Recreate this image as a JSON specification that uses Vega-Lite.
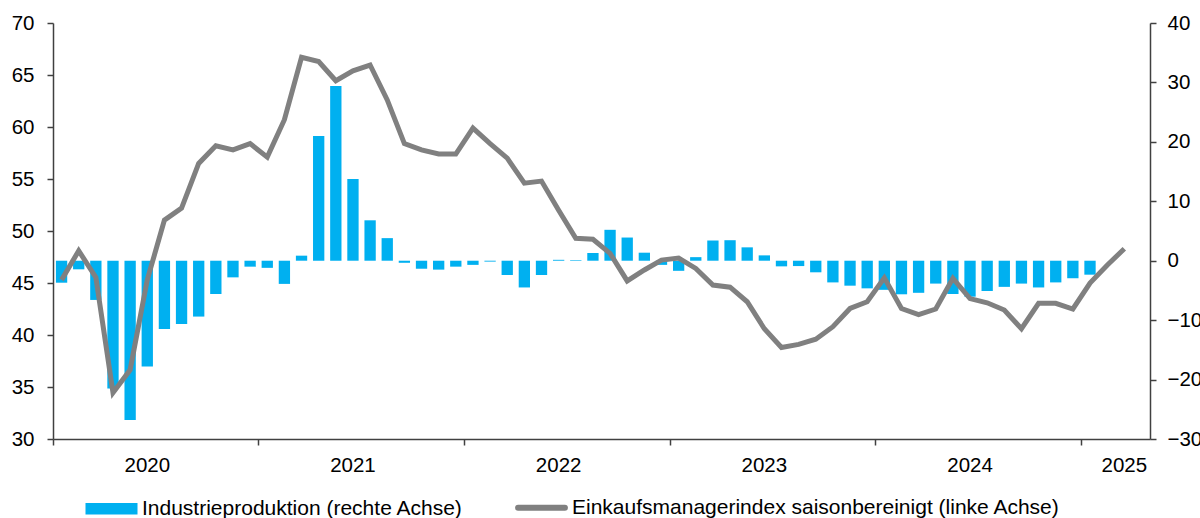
{
  "$schema": "https://vega.github.io/schema/vega-lite/v6.json",
  "width": 1097,
  "height": 416,
  "autosize": {"type": "none"},
  "padding": {"left": 53, "top": 23, "right": 50, "bottom": 79},
  "background": "white",
  "config": {
    "view": {"stroke": null},
    "font": "Liberation Sans",
    "axis": {"labelFont": "Liberation Sans", "labelFontSize": 20.5, "labelColor": "#000000", "domainColor": "#404040", "tickColor": "#404040", "grid": false, "title": null, "domainWidth": 1.5, "tickWidth": 1.5, "tickSize": 6},
    "legend": {"labelFont": "Liberation Sans", "labelFontSize": 21, "labelColor": "#000000"}
  },
  "data": {"values": [
    {"m": "2020-01", "ip": -3.7, "pmi": 45.3},
    {"m": "2020-02", "ip": -1.45, "pmi": 48.1},
    {"m": "2020-03", "ip": -6.6, "pmi": 45.55},
    {"m": "2020-04", "ip": -21.5, "pmi": 34.45},
    {"m": "2020-05", "ip": -26.8, "pmi": 36.65},
    {"m": "2020-06", "ip": -17.8, "pmi": 45.3},
    {"m": "2020-07", "ip": -11.5, "pmi": 51.05},
    {"m": "2020-08", "ip": -10.65, "pmi": 52.2},
    {"m": "2020-09", "ip": -9.4, "pmi": 56.5},
    {"m": "2020-10", "ip": -5.6, "pmi": 58.2},
    {"m": "2020-11", "ip": -2.8, "pmi": 57.8},
    {"m": "2020-12", "ip": -1.0, "pmi": 58.4},
    {"m": "2021-01", "ip": -1.2, "pmi": 57.1},
    {"m": "2021-02", "ip": -3.9, "pmi": 60.7},
    {"m": "2021-03", "ip": 0.85, "pmi": 66.7},
    {"m": "2021-04", "ip": 21.0, "pmi": 66.3},
    {"m": "2021-05", "ip": 29.4, "pmi": 64.45},
    {"m": "2021-06", "ip": 13.75, "pmi": 65.4},
    {"m": "2021-07", "ip": 6.8, "pmi": 65.96},
    {"m": "2021-08", "ip": 3.8, "pmi": 62.6},
    {"m": "2021-09", "ip": -0.35, "pmi": 58.4},
    {"m": "2021-10", "ip": -1.35, "pmi": 57.8},
    {"m": "2021-11", "ip": -1.5, "pmi": 57.4},
    {"m": "2021-12", "ip": -1.0, "pmi": 57.4},
    {"m": "2022-01", "ip": -0.7, "pmi": 59.9},
    {"m": "2022-02", "ip": -0.15, "pmi": 58.4},
    {"m": "2022-03", "ip": -2.4, "pmi": 57.0},
    {"m": "2022-04", "ip": -4.5, "pmi": 54.6},
    {"m": "2022-05", "ip": -2.4, "pmi": 54.8},
    {"m": "2022-06", "ip": 0.15, "pmi": 52.0},
    {"m": "2022-07", "ip": 0.1, "pmi": 49.3},
    {"m": "2022-08", "ip": 1.3, "pmi": 49.2},
    {"m": "2022-09", "ip": 5.2, "pmi": 47.85},
    {"m": "2022-10", "ip": 3.9, "pmi": 45.2},
    {"m": "2022-11", "ip": 1.35, "pmi": 46.25},
    {"m": "2022-12", "ip": -0.7, "pmi": 47.2},
    {"m": "2023-01", "ip": -1.7, "pmi": 47.4},
    {"m": "2023-02", "ip": 0.6, "pmi": 46.4},
    {"m": "2023-03", "ip": 3.4, "pmi": 44.8},
    {"m": "2023-04", "ip": 3.45, "pmi": 44.6},
    {"m": "2023-05", "ip": 2.25, "pmi": 43.2},
    {"m": "2023-06", "ip": 0.9, "pmi": 40.6},
    {"m": "2023-07", "ip": -0.95, "pmi": 38.8},
    {"m": "2023-08", "ip": -0.9, "pmi": 39.1},
    {"m": "2023-09", "ip": -1.95, "pmi": 39.6},
    {"m": "2023-10", "ip": -3.65, "pmi": 40.8},
    {"m": "2023-11", "ip": -4.2, "pmi": 42.55},
    {"m": "2023-12", "ip": -4.65, "pmi": 43.2},
    {"m": "2024-01", "ip": -4.9, "pmi": 45.5},
    {"m": "2024-02", "ip": -5.65, "pmi": 42.55},
    {"m": "2024-03", "ip": -5.4, "pmi": 41.95},
    {"m": "2024-04", "ip": -3.85, "pmi": 42.5},
    {"m": "2024-05", "ip": -5.6, "pmi": 45.45},
    {"m": "2024-06", "ip": -6.05, "pmi": 43.5},
    {"m": "2024-07", "ip": -5.1, "pmi": 43.1},
    {"m": "2024-08", "ip": -4.4, "pmi": 42.4},
    {"m": "2024-09", "ip": -3.85, "pmi": 40.6},
    {"m": "2024-10", "ip": -4.5, "pmi": 43.05},
    {"m": "2024-11", "ip": -3.65, "pmi": 43.05},
    {"m": "2024-12", "ip": -2.95, "pmi": 42.5},
    {"m": "2025-01", "ip": -2.35, "pmi": 45.0},
    {"m": "2025-02", "ip": null, "pmi": 46.7},
    {"m": "2025-03", "ip": null, "pmi": 48.3}
  ]},
  "layer": [
    {
      "mark": {"type": "bar", "width": {"band": 0.66}, "color": "#00B0F0"},
      "encoding": {
        "x": {
          "field": "m", "type": "ordinal",
          "scale": {"domain": ["2020-01","2020-02","2020-03","2020-04","2020-05","2020-06","2020-07","2020-08","2020-09","2020-10","2020-11","2020-12","2021-01","2021-02","2021-03","2021-04","2021-05","2021-06","2021-07","2021-08","2021-09","2021-10","2021-11","2021-12","2022-01","2022-02","2022-03","2022-04","2022-05","2022-06","2022-07","2022-08","2022-09","2022-10","2022-11","2022-12","2023-01","2023-02","2023-03","2023-04","2023-05","2023-06","2023-07","2023-08","2023-09","2023-10","2023-11","2023-12","2024-01","2024-02","2024-03","2024-04","2024-05","2024-06","2024-07","2024-08","2024-09","2024-10","2024-11","2024-12","2025-01","2025-02","2025-03","2025-04"], "paddingInner": 0, "paddingOuter": 0},
          "axis": {"orient": "bottom", "values": ["2020-01","2021-01","2022-01","2023-01","2024-01","2025-01"], "bandPosition": 0, "labels": false, "ticks": true, "tickSize": 6, "domain": true, "domainColor": "#404040", "tickColor": "#404040", "domainWidth": 1.5, "tickWidth": 1.5}
        },
        "y": {
          "field": "ip", "type": "quantitative",
          "scale": {"domain": [-30, 40], "nice": false, "zero": false},
          "axis": {"orient": "right", "values": [-30, -20, -10, 0, 10, 20, 30, 40], "labelPadding": 11, "tickSize": 6, "domainColor": "#404040", "tickColor": "#404040", "domainWidth": 1.5, "tickWidth": 1.5}
        },
        "color": {
          "datum": "Industrieproduktion (rechte Achse)", "type": "nominal",
          "scale": {"domain": ["Industrieproduktion (rechte Achse)", "Einkaufsmanagerindex saisonbereinigt (linke Achse)"], "range": ["#00B0F0", "#808080"]},
          "legend": {
            "orient": "none", "legendX": 31, "legendY": 474, "direction": "horizontal", "title": null,
            "symbolSize": 2704, "symbolOffset": 17, "labelOffset": 20, "columnPadding": 43, "labelLimit": 0, "padding": 0,
            "labelFontSize": 21, "labelFont": "Liberation Sans",
            "encode": {"symbols": {"update": {
              "shape": {"signal": "datum.value === 'Industrieproduktion (rechte Achse)' ? 'M-1,-0.22H1V0.22H-1Z' : 'M-0.9,0H0.9'"},
              "strokeWidth": {"signal": "datum.value === 'Industrieproduktion (rechte Achse)' ? 0 : 6"},
              "strokeCap": {"value": "round"},
              "fill": {"scale": "color", "field": "value"},
              "stroke": {"scale": "color", "field": "value"},
              "opacity": {"value": 1},
              "fillOpacity": {"value": 1},
              "strokeOpacity": {"value": 1}
            }}}
          }
        }
      }
    },
    {
      "mark": {"type": "line", "strokeWidth": 5},
      "encoding": {
        "x": {
          "field": "m", "type": "ordinal",
          "scale": {"domain": ["2020-01","2020-02","2020-03","2020-04","2020-05","2020-06","2020-07","2020-08","2020-09","2020-10","2020-11","2020-12","2021-01","2021-02","2021-03","2021-04","2021-05","2021-06","2021-07","2021-08","2021-09","2021-10","2021-11","2021-12","2022-01","2022-02","2022-03","2022-04","2022-05","2022-06","2022-07","2022-08","2022-09","2022-10","2022-11","2022-12","2023-01","2023-02","2023-03","2023-04","2023-05","2023-06","2023-07","2023-08","2023-09","2023-10","2023-11","2023-12","2024-01","2024-02","2024-03","2024-04","2024-05","2024-06","2024-07","2024-08","2024-09","2024-10","2024-11","2024-12","2025-01","2025-02","2025-03","2025-04"], "paddingInner": 0, "paddingOuter": 0},
          "axis": {"orient": "bottom", "values": ["2020-06","2021-06","2022-06","2023-06","2024-06","2025-03"], "bandPosition": 0.5, "ticks": false, "tickSize": 0, "domain": false, "labelPadding": 16, "labelAngle": 0, "labelExpr": "substring(datum.value, 0, 4)"}
        },
        "y": {
          "field": "pmi", "type": "quantitative",
          "scale": {"domain": [30, 70], "nice": false, "zero": false},
          "axis": {"orient": "left", "values": [30, 35, 40, 45, 50, 55, 60, 65, 70], "labelPadding": 13, "tickSize": 6, "domainColor": "#404040", "tickColor": "#404040", "domainWidth": 1.5, "tickWidth": 1.5}
        },
        "color": {"datum": "Einkaufsmanagerindex saisonbereinigt (linke Achse)", "type": "nominal"}
      }
    }
  ],
  "resolve": {"scale": {"y": "independent"}, "axis": {"x": "independent", "y": "independent"}}
}
